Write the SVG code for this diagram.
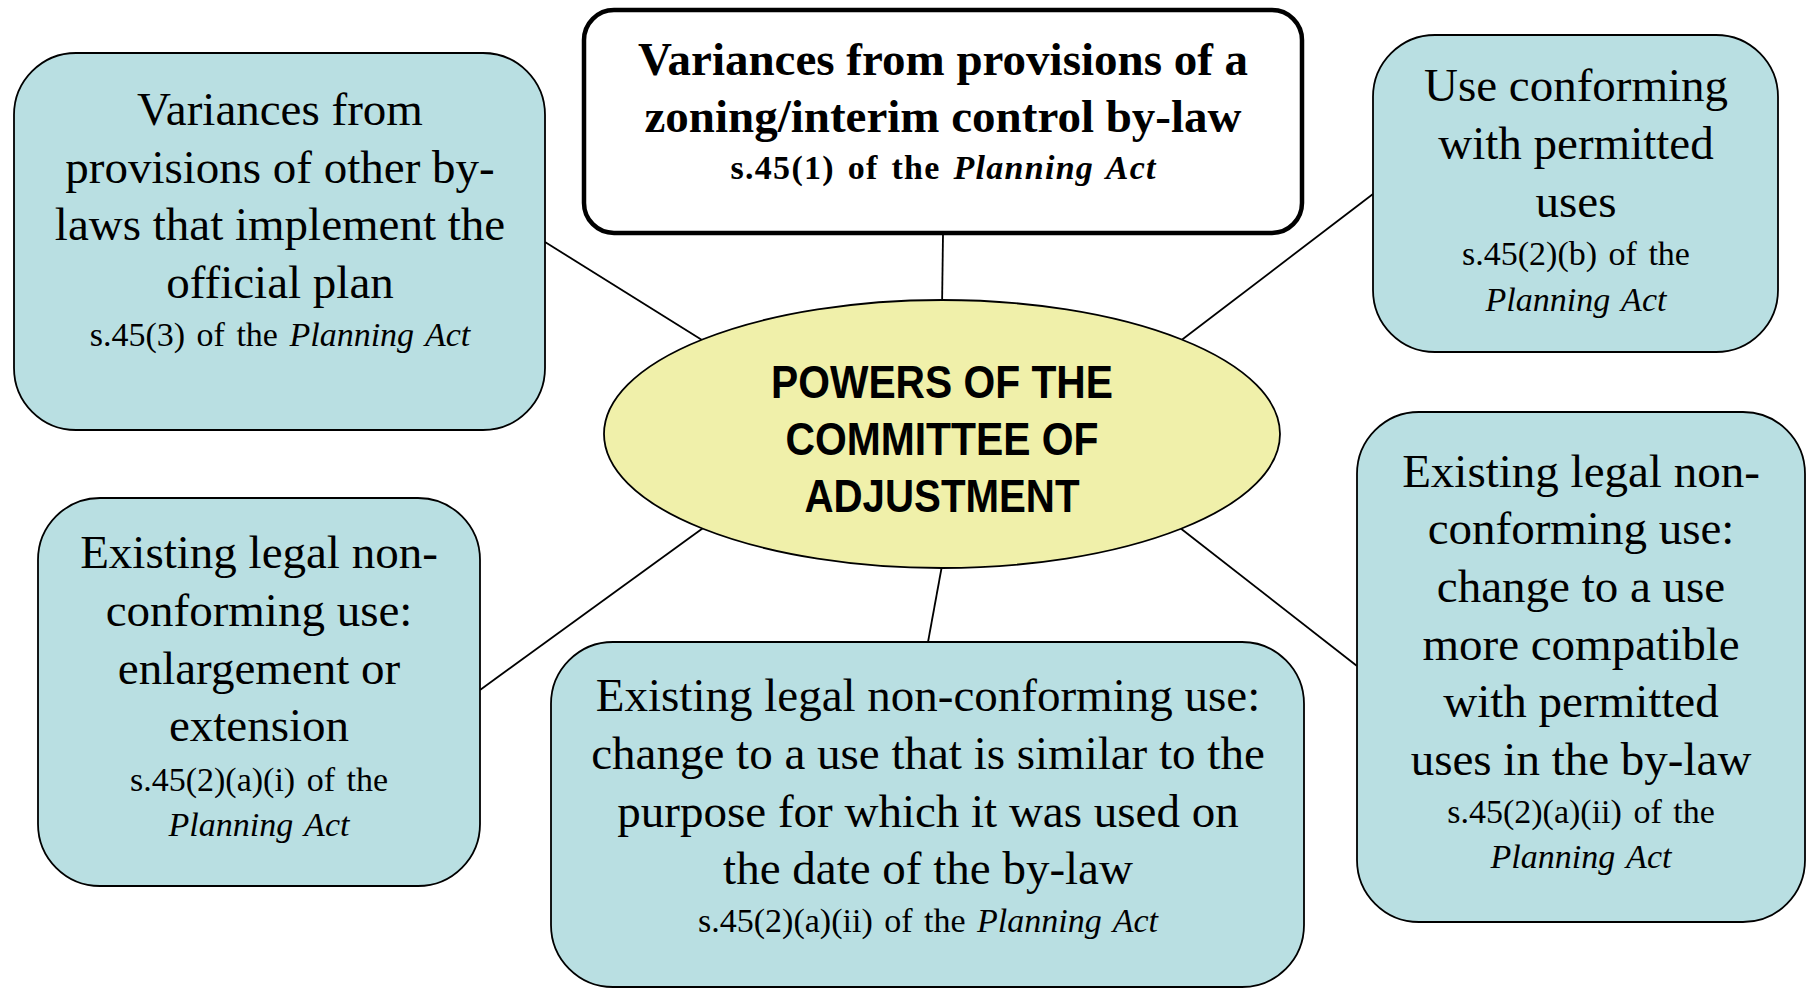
<svg xmlns="http://www.w3.org/2000/svg" width="1808" height="988" viewBox="0 0 1808 988">
<style>
.box{fill:#B9DFE2;stroke:#000;stroke-width:1.8}
.main{font-family:"Liberation Serif",serif;font-size:47px;fill:#000;text-anchor:middle}
.sub{font-family:"Liberation Serif",serif;font-size:34px;fill:#000;text-anchor:middle;word-spacing:3px}
.it{font-style:italic}
.conn line{stroke:#000;stroke-width:1.8}
.center{font-family:"Liberation Sans",sans-serif;font-weight:bold;font-size:47px;text-anchor:middle}
</style>
<rect width="1808" height="988" fill="#fff"/>
<g id="connectors" class="conn">
<line x1="943" y1="234" x2="942" y2="310"/>
<line x1="545" y1="242" x2="710" y2="345"/>
<line x1="1373" y1="194" x2="1175" y2="345"/>
<line x1="480" y1="690" x2="710" y2="523"/>
<line x1="943" y1="560" x2="928" y2="642"/>
<line x1="1175" y1="524" x2="1357" y2="666"/>
</g>
<g id="top">
<rect x="584" y="10" width="718" height="223" rx="30" fill="#fff" stroke="#000" stroke-width="4.5"/>
<text class="main" x="943" y="75" font-weight="bold" font-size="49">Variances from provisions of  a</text>
<text class="main" x="943" y="132" font-weight="bold" font-size="49">zoning/interim control by-law</text>
<text class="sub" x="943" y="179" font-weight="bold" textLength="425" lengthAdjust="spacing">s.45(1) of the <tspan class="it">Planning Act</tspan></text>
</g>
<g id="center">
<ellipse cx="942" cy="434" rx="338" ry="134" fill="#F0F0AA" stroke="#000" stroke-width="1.8"/>
<text class="center" x="942" y="398" textLength="342" lengthAdjust="spacingAndGlyphs">POWERS OF THE</text>
<text class="center" x="942" y="455" textLength="313" lengthAdjust="spacingAndGlyphs">COMMITTEE OF</text>
<text class="center" x="942" y="512" textLength="275" lengthAdjust="spacingAndGlyphs">ADJUSTMENT</text>
</g>
<g id="topleft">
<rect class="box" x="14" y="53" width="531" height="377" rx="62"/>
<text class="main" x="280" y="125">Variances from</text>
<text class="main" x="280" y="183">provisions of  other by-</text>
<text class="main" x="280" y="240">laws that implement the</text>
<text class="main" x="280" y="298">official plan</text>
<text class="sub" x="280" y="346">s.45(3) of the <tspan class="it">Planning Act</tspan></text>
</g>
<g id="topright">
<rect class="box" x="1373" y="35" width="405" height="317" rx="62"/>
<text class="main" x="1576" y="101">Use conforming</text>
<text class="main" x="1576" y="159">with permitted</text>
<text class="main" x="1576" y="217">uses</text>
<text class="sub" x="1576" y="265">s.45(2)(b) of the</text>
<text class="sub it" x="1576" y="311">Planning Act</text>
</g>
<g id="bottomleft">
<rect class="box" x="38" y="498" width="442" height="388" rx="62"/>
<text class="main" x="259" y="568">Existing legal non-</text>
<text class="main" x="259" y="626">conforming use:</text>
<text class="main" x="259" y="684">enlargement or</text>
<text class="main" x="259" y="741">extension</text>
<text class="sub" x="259" y="791">s.45(2)(a)(i) of the</text>
<text class="sub it" x="259" y="836">Planning Act</text>
</g>
<g id="bottomcenter">
<rect class="box" x="551" y="642" width="753" height="345" rx="62"/>
<text class="main" x="928" y="711">Existing legal non-conforming use:</text>
<text class="main" x="928" y="769">change to a use that is similar to the</text>
<text class="main" x="928" y="827">purpose for which it was used on</text>
<text class="main" x="928" y="884">the date of  the by-law</text>
<text class="sub" x="928" y="932">s.45(2)(a)(ii) of the <tspan class="it">Planning Act</tspan></text>
</g>
<g id="bottomright">
<rect class="box" x="1357" y="412" width="448" height="510" rx="62"/>
<text class="main" x="1581" y="487">Existing legal non-</text>
<text class="main" x="1581" y="544">conforming use:</text>
<text class="main" x="1581" y="602">change to a use</text>
<text class="main" x="1581" y="660">more compatible</text>
<text class="main" x="1581" y="717">with permitted</text>
<text class="main" x="1581" y="775">uses in the by-law</text>
<text class="sub" x="1581" y="823">s.45(2)(a)(ii) of the</text>
<text class="sub it" x="1581" y="868">Planning Act</text>
</g>
</svg>
